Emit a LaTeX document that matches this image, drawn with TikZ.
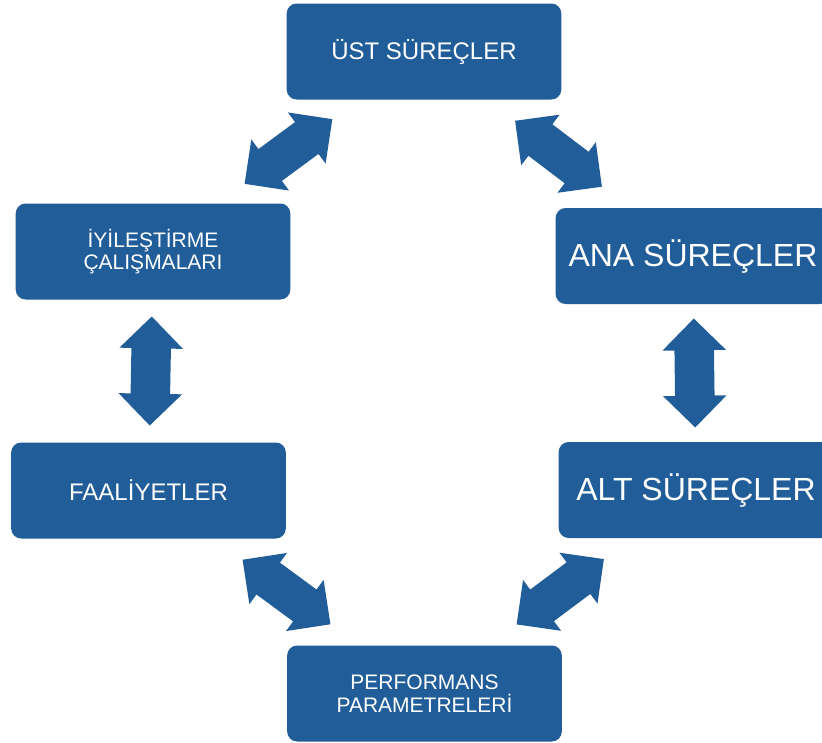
\documentclass[tikz,border=0pt]{standalone}
\usepackage{fontspec}
\setmainfont{Liberation Sans}
\usepackage{tikz}
\usetikzlibrary{shapes.arrows}
\definecolor{procblue}{RGB}{33, 94, 153}

\tikzset{
  procbox/.style={fill=procblue, rounded corners=7.5pt, minimum width=206pt, minimum height=72pt,
    inner sep=0pt, outer sep=0pt, text=white, align=center},
  dblarrow/.style={shape=double arrow, fill=procblue, draw=none, inner xsep=0pt, inner ysep=14.625pt,
    double arrow head extend=9pt, double arrow tip angle=90, minimum width=0pt, minimum height=81.75pt,
    midway, sloped},
}

\begin{document}
\begin{tikzpicture}[x=0.75pt, y=-0.75pt]
  \useasboundingbox (0, 0) rectangle (822, 743);

  % Boxes
  \node[procbox, font=\fontsize{18}{21}\selectfont] (ust) at (424, 51.5) {ÜST SÜREÇLER};
  \node[procbox, font=\fontsize{15.75}{16.3}\selectfont] (iyi) at (153, 251.5) {İYİLEŞTİRME\\ÇALIŞMALARI};
  \node[procbox, font=\fontsize{24}{28}\selectfont] (ana) at (693, 256) {ANA SÜREÇLER};
  \node[procbox, font=\fontsize{18}{21}\selectfont] (faa) at (148.5, 490.5) {FAALİYETLER};
  \node[procbox, font=\fontsize{24}{28}\selectfont] (alt) at (696, 490) {ALT SÜREÇLER};
  \node[procbox, font=\fontsize{15.75}{17.5}\selectfont] (perf) at (424.5, 693.5) {PERFORMANS\\PARAMETRELERİ};

  % Arrows
  \path (ust) -- (iyi) node[dblarrow] (ust-iyi) {};
  \path (ust) -- (ana) node[dblarrow] (ust-ana) {};
  \path (iyi) -- (faa) node[dblarrow] (iyi-faa) {};
  \path (ana) -- (alt) node[dblarrow] (ana-alt) {};
  \path (faa) -- (perf) node[dblarrow] (faa-perf) {};
  \path (alt) -- (perf) node[dblarrow] (alt-perf) {};
\end{tikzpicture}
\end{document}
